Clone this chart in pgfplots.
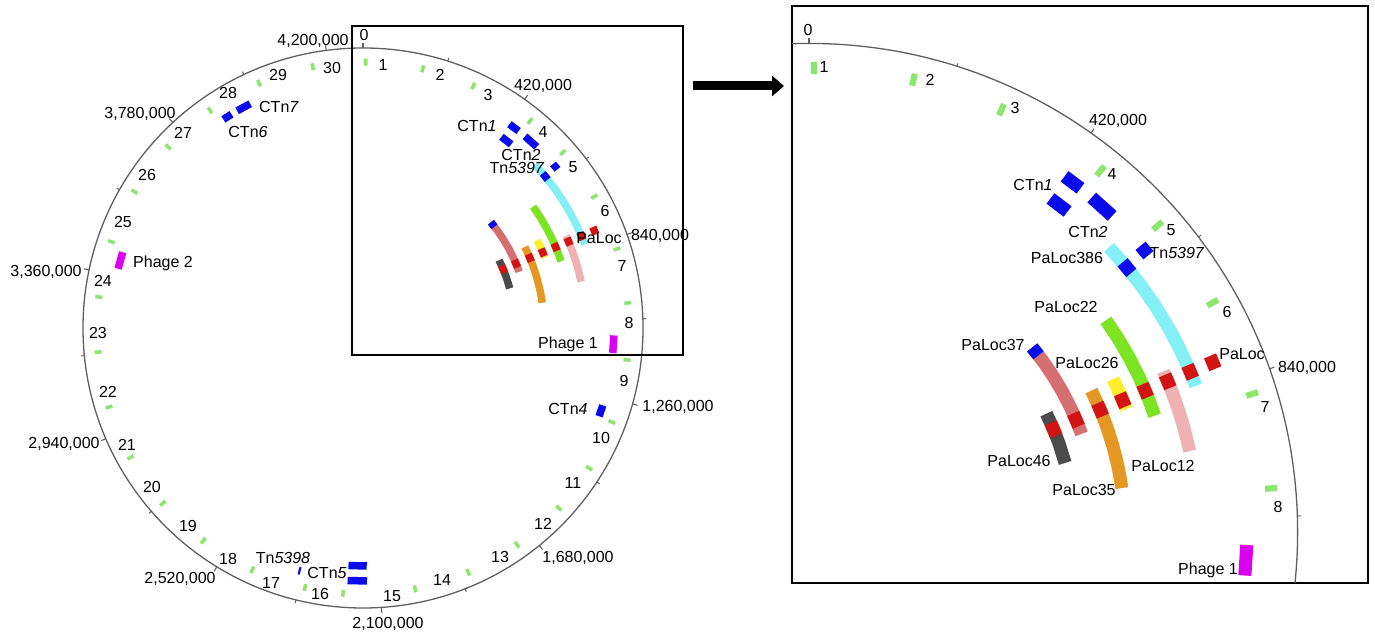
\documentclass[border=0pt]{standalone}
\usepackage{fontspec}
\setmainfont{Liberation Sans}
\usepackage{pgfplots}
\pgfplotsset{compat=1.18}
\usepgfplotslibrary{polar}
\usetikzlibrary{arrows.meta}

\definecolor{gmk}{RGB}{140,230,110}
\definecolor{bl}{RGB}{10,10,235}
\definecolor{cy}{RGB}{130,240,245}
\definecolor{grn}{RGB}{125,228,35}
\definecolor{lpink}{RGB}{238,178,178}
\definecolor{yel}{RGB}{252,238,40}
\definecolor{org}{RGB}{228,152,35}
\definecolor{ros}{RGB}{214,112,112}
\definecolor{dgr}{RGB}{75,75,75}
\definecolor{rd}{RGB}{210,20,20}
\definecolor{mag}{RGB}{218,0,240}
\definecolor{bb}{RGB}{95,95,95}

\pgfplotsset{
  feat/.style={no markers, data cs=polar, forget plot, line cap=butt, line join=round, line width=7.5*\myU},
}
% green loci: angle (deg, counter-clockwise from 3 o'clock), radius
\newcommand\gm[1]{\addplot[feat, gmk, line width=3.5*\myU] coordinates {(#1,262.5) (#1,269.5)};}
% short feature: colour, angle1, angle2, radius
\newcommand\seg[4]{\addplot[feat, #1] coordinates {(#2,#4) (#3,#4)};}

\newcommand\features{%
  \gm{89.4}\gm{77.0}\gm{65.5}\gm{51.1}\gm{41.3}\gm{29.6}\gm{17.3}\gm{5.4}\gm{-6.9}\gm{-20.7}
  \gm{-31.8}\gm{-42.6}\gm{-54.6}\gm{-66.7}\gm{-78.7}\gm{-94.3}\gm{-102.6}\gm{-114.6}\gm{-126.9}\gm{-138.8}
  \gm{-150.9}\gm{-162.7}\gm{-174.8}\gm{-186.7}\gm{-198.9}\gm{-210.8}\gm{-222.9}\gm{-234.9}\gm{-247.0}\gm{-259.1}
  % mobile elements
  \seg{bl}{-239.9}{-243.3}{251}% CTn7
  \seg{bl}{-236.2}{-238.4}{251}% CTn6
  \seg{bl}{54.3}{51.7}{251}% CTn1
  \seg{bl}{54.1}{51.1}{236}%
  \seg{bl}{49.8}{46.2}{251}% CTn2
  \seg{bl}{40.8}{39.2}{251}% Tn5397
  \seg{bl}{-17.9}{-20.5}{252}% CTn4
  \seg{bl}{-89.1}{-93.5}{238}% CTn5
  \seg{bl}{-89.1}{-93.5}{253}% CTn5
  \seg{bl}{-104.4}{-104.9}{251}% Tn5398
  \seg{mag}{-1.7}{-5.7}{251}% Phage 1
  \seg{mag}{-193.6}{-197.5}{252}% Phage 2
  % PaLoc tracks
  \addplot[feat, cy] coordinates {(43.5,237) (40,237) (36.5,237) (33,237) (29.5,237) (26,237) (22.5,237) (20.7,237)};
  \seg{bl}{40.7}{38.8}{237}
  \addplot[feat, lpink] coordinates {(24.4,223) (21,223) (18,223) (15,223) (12.0,223)};
  \addplot[feat, grn] coordinates {(35.5,209) (32,209) (28.5,209) (25,209) (21.5,209) (18.6,209)};
  \addplot[feat, yel] coordinates {(26.7,195) (24,195) (21.2,195)};
  \addplot[feat, org] coordinates {(26.6,181) (23,181) (19.5,181) (16,181) (12.5,181) (10,181) (8.0,181)};
  \addplot[feat, ros] coordinates {(39.6,166) (36,166) (32.5,166) (29,166) (25.5,166) (22,166) (19.8,166)};
  \seg{bl}{39.6}{37.6}{166}
  \addplot[feat, dgr] coordinates {(26.5,152) (23,152) (19.5,152) (15.1,152)};
  % PaLoc positions
  \seg{rd}{23.71}{21.89}{251}
  \seg{rd}{23.77}{21.83}{237}
  \seg{rd}{23.83}{21.77}{223}
  \seg{rd}{23.90}{21.70}{209}
  \seg{rd}{23.98}{21.62}{195}
  \seg{rd}{24.07}{21.53}{181}
  \seg{rd}{24.18}{21.42}{166}
  \seg{rd}{24.31}{21.29}{152}
}

\newcommand\backbone{%
  \draw[bb, line width=0.65pt] (axis cs:0,0) circle[radius=280*\myU];
  \begin{scope}[shift={(axis cs:0,0)}]
    \pgfplotsinvokeforeach{0,...,10}{%
      \draw[bb, line width=0.55pt] ({90-##1*35.2448}:{280*\myU}) -- ({90-##1*35.2448}:{280*\myU+2.6pt});}
    \pgfplotsinvokeforeach{0,...,9}{%
      \draw[bb, line width=0.5pt] ({90-(##1+0.5)*35.2448}:{280*\myU}) -- ({90-(##1+0.5)*35.2448}:{280*\myU+1.6pt});}
  \end{scope}
}

\tikzset{lab/.style={font=\fontsize{8}{9.6}\selectfont, inner sep=0pt, text height=5.75pt, text depth=0pt, anchor=center}}

\begin{document}
\begin{tikzpicture}
\def\myU{0.5pt}
\begin{axis}[at={(0pt,0pt)}, anchor=south west, x=0.5pt, y=0.5pt,
  xmin=-363, xmax=327, ymin=-307, ymax=328, hide axis, clip=false]
\backbone
\features
\end{axis}

\def\myU{0.8725pt}
\begin{axis}[at={(396pt,26pt)}, anchor=south west, x=0.8725pt, y=0.8725pt,
  xmin=-9.74, xmax=320.3, ymin=-29.2, ymax=301.4,
  xtick=\empty, ytick=\empty, axis line style={line width=1pt}, clip=true]
\begin{scope}
\clip (rel axis cs:0,0) rectangle (rel axis cs:1,1);
\backbone
\end{scope}
\features
\end{axis}

\begin{scope}[shift={(0pt,317.5pt)}, x=0.5pt, y=-0.5pt]
  % zoom frame and arrow
  \draw[line width=0.8pt] (352,26) rectangle (683,355);
  \draw[line width=4.5pt, -{Triangle[length=6pt,width=10pt]}] (693,86) -- (784,86);
  % left: position labels
  \node[lab] at (364,35) {0};
  \node[lab] at (543,85) {420,000};
  \node[lab] at (660,235) {840,000};
  \node[lab] at (678,406) {1,260,000};
  \node[lab] at (578,557) {1,680,000};
  \node[lab] at (388,623) {2,100,000};
  \node[lab] at (180,578) {2,520,000};
  \node[lab] at (64,443) {2,940,000};
  \node[lab] at (46,271) {3,360,000};
  \node[lab] at (140,113) {3,780,000};
  \node[lab] at (313,40) {4,200,000};
  % left: locus numbers
  \node[lab] at (383,65) {1};   \node[lab] at (440,75) {2};   \node[lab] at (488,95) {3};
  \node[lab] at (543,132) {4};  \node[lab] at (573,167) {5};  \node[lab] at (605,211) {6};
  \node[lab] at (622,266) {7};  \node[lab] at (629,323) {8};  \node[lab] at (624,381) {9};
  \node[lab] at (601,438) {10}; \node[lab] at (573,483) {11}; \node[lab] at (543,524) {12};
  \node[lab] at (500,557) {13}; \node[lab] at (442,580) {14}; \node[lab] at (392,596) {15};
  \node[lab] at (320,594) {16}; \node[lab] at (271,583) {17}; \node[lab] at (228,559) {18};
  \node[lab] at (188,526) {19}; \node[lab] at (152,487) {20}; \node[lab] at (127,445) {21};
  \node[lab] at (108,392) {22}; \node[lab] at (98,333) {23};  \node[lab] at (103,281) {24};
  \node[lab] at (123,222) {25}; \node[lab] at (147,175) {26}; \node[lab] at (183,133) {27};
  \node[lab] at (228,93) {28};  \node[lab] at (278,75) {29};  \node[lab] at (332,68) {30};
  % left: element labels
  \node[lab] at (279,107) {CTn\textit{7}};
  \node[lab] at (248,132) {CTn\textit{6}};
  \node[lab] at (477,126) {CTn\textit{1}};
  \node[lab] at (521,155) {CTn\textit{2}};
  \node[lab] at (517,168) {Tn\textit{5397}};
  \node[lab] at (599,238) {PaLoc};
  \node[lab] at (568,343) {Phage 1};
  \node[lab] at (568,409) {CTn\textit{4}};
  \node[lab] at (163,262) {Phage 2};
  \node[lab] at (283,558) {Tn\textit{5398}};
  \node[lab] at (327,573) {CTn\textit{5}};
  % right: position labels
  \node[lab] at (808,30) {0};
  \node[lab] at (1118,120) {420,000};
  \node[lab] at (1307,367) {840,000};
  % right: locus numbers
  \node[lab] at (824,67) {1};  \node[lab] at (930,80) {2};  \node[lab] at (1015,108) {3};
  \node[lab] at (1112,174) {4}; \node[lab] at (1171,230) {5}; \node[lab] at (1227,312) {6};
  \node[lab] at (1265,407) {7}; \node[lab] at (1278,507) {8};
  % right: element labels
  \node[lab] at (1033,185) {CTn\textit{1}};
  \node[lab] at (1088,232) {CTn\textit{2}};
  \node[lab] at (1177,253) {Tn\textit{5397}};
  \node[lab] at (1067,258) {PaLoc386};
  \node[lab] at (1066,307) {PaLoc22};
  \node[lab] at (993,345) {PaLoc37};
  \node[lab] at (1087,363) {PaLoc26};
  \node[lab] at (1242,354) {PaLoc};
  \node[lab] at (1019,461) {PaLoc46};
  \node[lab] at (1084,490) {PaLoc35};
  \node[lab] at (1163,466) {PaLoc12};
  \node[lab] at (1208,569) {Phage 1};
\end{scope}
\pgfresetboundingbox
\path (0pt,0pt) rectangle (687.5pt,317.5pt);
\end{tikzpicture}
\end{document}
